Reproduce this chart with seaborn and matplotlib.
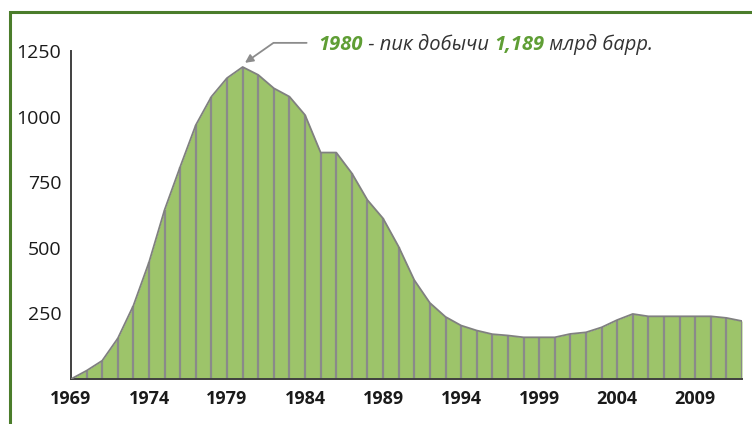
import numpy as np
import pandas as pd
import seaborn as sns
import matplotlib.pyplot as plt
from matplotlib.patches import Rectangle

# --------------------------
# Data
# --------------------------
years = list(range(1969, 2013))
production = [0, 32, 70, 155, 280, 445, 645, 809, 968, 1076,
              1147, 1189, 1159, 1108, 1076, 1006, 863, 863, 784, 682,
              612, 504, 377, 290, 237, 204, 185, 171, 166, 159,
              159, 159, 172, 178, 197, 225, 248, 239, 239, 239,
              239, 239, 233, 221]
tick_years = [1969, 1974, 1979, 1984, 1989, 1994, 1999, 2004, 2009]
y_ticks = [250, 500, 750, 1000, 1250]

peak_year = 1980
peak_value = 1189

df = pd.DataFrame({"year": years, "value": production})

# --------------------------
# Style
# --------------------------
sns.set_style("white")
plt.rcParams['font.family'] = ['Open Sans', 'DejaVu Sans']

fill_green = "#9dc46a"
edge_grey = "#808080"
text_green = "#5f9e35"
text_dark = "#333333"

fig = plt.figure(figsize=(7.52, 4.24), dpi=100)
ax = fig.add_axes([0.0944, 0.106, 0.8923, 0.7737])

# frame around the figure (only left and top visible in the original)
fig.patches.append(Rectangle((0.0133, -0.05), 1.2, 1.0217, transform=fig.transFigure,
                             fill=False, edgecolor="#4b7d2b", linewidth=2.2))

# area + outline
ax.fill_between(df["year"], df["value"], color=fill_green, linewidth=0, zorder=1)
ax.vlines(df["year"], 0, df["value"], color="#8a8a8a", linewidth=1.6, zorder=2)
sns.lineplot(data=df, x="year", y="value", ax=ax, color=edge_grey,
             linewidth=1.3, zorder=3)

ax.set_xlim(years[0], years[-1])
ax.set_ylim(0, 1250)
ax.set_xticks(tick_years)
ax.set_xticklabels([str(y) for y in tick_years], fontweight="bold",
                   fontsize=13, color="#1a1a1a")
ax.set_yticks(y_ticks)
ax.set_yticklabels([str(v) for v in y_ticks], fontsize=14, color="#1a1a1a")
ax.set_xlabel("")
ax.set_ylabel("")

for side in ["top", "right"]:
    ax.spines[side].set_visible(False)
for side in ["left", "bottom"]:
    ax.spines[side].set_color("#404040")
    ax.spines[side].set_linewidth(1.4)
ax.tick_params(axis="y", direction="in", length=8, width=1.4, color="#404040", pad=7)
ax.tick_params(axis="x", direction="out", length=5, width=1.0, color="#808080", pad=3)

# --------------------------
# Peak annotation
# --------------------------
ax.annotate("", xy=(peak_year + 0.15, peak_value + 16), xytext=(1984.1, 1281),
            xycoords="data", textcoords="data", annotation_clip=False,
            arrowprops=dict(arrowstyle="-|>", color="#8c8c8c", lw=1.3,
                            mutation_scale=12, shrinkA=0, shrinkB=0,
                            connectionstyle="angle,angleA=0,angleB=35,rad=0"))

parts = [(str(peak_year), "bold", text_green),
         (" - пик добычи ", "normal", text_dark),
         ("1,189", "bold", text_green),
         (" млрд барр.", "normal", text_dark)]
prev = fig.text(0.4229, 0.895, parts[0][0], fontsize=14.5, fontstyle="italic",
                fontweight=parts[0][1], color=parts[0][2], va="center", ha="left")
for txt, weight, col in parts[1:]:
    prev = ax.annotate(txt, xy=(1, 0.5), xycoords=prev, va="center", ha="left",
                       fontsize=14.5, fontstyle="italic", fontweight=weight,
                       color=col, annotation_clip=False)

fig.savefig("out.png", dpi=100)
